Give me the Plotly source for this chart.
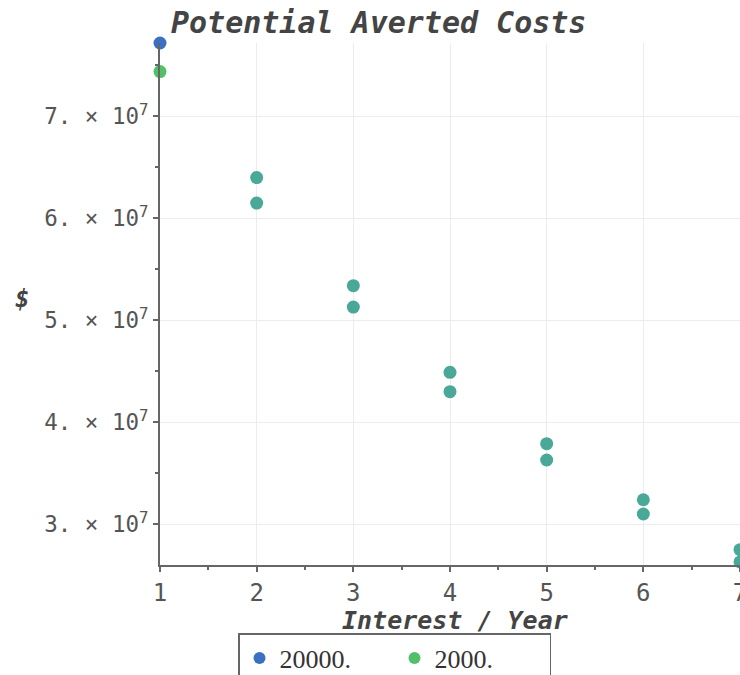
import plotly.graph_objects as go

# ---- data ----
interest_years = [1, 2, 3, 4, 5, 6, 7]
series_names = ["20000.", "2000."]
costs_20000 = [7.72e7, 6.40e7, 5.34e7, 4.49e7, 3.79e7, 3.24e7, 2.75e7]
costs_2000 = [7.44e7, 6.15e7, 5.13e7, 4.30e7, 3.63e7, 3.10e7, 2.63e7]
y_tick_vals = [3e7, 4e7, 5e7, 6e7, 7e7]
y_tick_text = ["3. × 10<sup>7</sup>", "4. × 10<sup>7</sup>", "5. × 10<sup>7</sup>",
               "6. × 10<sup>7</sup>", "7. × 10<sup>7</sup>"]
x_tick_vals = [1, 2, 3, 4, 5, 6, 7]

BLUE = "#3b6fc2"
GREEN = "#52c06a"
TEAL = "#49a898"

def colors(first):
    return [first] + [TEAL] * (len(interest_years) - 1)

fig = go.Figure()
fig.add_trace(go.Scatter(
    x=interest_years, y=costs_20000, mode="markers", name=series_names[0],
    marker=dict(size=13, color=colors(BLUE), symbol="circle"),
    cliponaxis=False,
))
fig.add_trace(go.Scatter(
    x=interest_years, y=costs_2000, mode="markers", name=series_names[1],
    marker=dict(size=13, color=colors(GREEN), symbol="circle"),
    cliponaxis=False,
))

mono = "DejaVu Sans Mono"
PH = 522  # plot height in px
PW = 580  # plot width in px
fig.update_layout(
    width=740, height=675,
    margin=dict(l=160, r=0, t=43, b=110, autoexpand=False),
    plot_bgcolor="white", paper_bgcolor="white",
    showlegend=True,
    legend=dict(
        orientation="h", x=(238 - 160) / PW, xanchor="left", y=-(633 - 565) / PH, yanchor="top",
        bordercolor="#666", borderwidth=1.5,
        font=dict(family="Liberation Serif", size=26, color="#333"),
        entrywidth=110, entrywidthmode="pixels", itemsizing="constant",
        tracegroupgap=0,
    ),
    annotations=[
        dict(text="<b><i>Potential Averted Costs</i></b>", xref="paper", yref="paper",
             x=(378 - 160) / PW, y=1 + (43 - 23) / PH, xanchor="center", yanchor="middle",
             showarrow=False, font=dict(family=mono, size=30, color="#444")),
        dict(text="<b><i>Interest / Year</i></b>", xref="paper", yref="paper",
             x=(455 - 160) / PW, y=-(620 - 565) / PH, xanchor="center", yanchor="middle",
             showarrow=False, font=dict(family=mono, size=25, color="#444")),
        dict(text="<b><i>$</i></b>", xref="paper", yref="paper",
             x=-(160 - 22) / PW, y=(565 - 299) / PH, xanchor="center", yanchor="middle",
             showarrow=False, font=dict(family=mono, size=24, color="#444")),
    ],
)
fig.update_xaxes(
    range=[1, 7.0], tickvals=x_tick_vals, automargin=False, ticklabeloverflow="allow",
    showline=True, linecolor="#666", linewidth=2,
    ticks="outside", ticklen=5, tickcolor="#666", tickwidth=1.5,
    minor=dict(ticks="outside", ticklen=3, tickcolor="#666", dtick=0.5, showgrid=False),
    showgrid=True, gridcolor="#ececec", gridwidth=1,
    zeroline=False,
    tickfont=dict(family=mono, size=24, color="#555"),
)
fig.update_yaxes(
    range=[2.6e7, 7.72e7], tickvals=y_tick_vals, ticktext=y_tick_text, automargin=False,
    showline=True, linecolor="#666", linewidth=2,
    ticks="outside", ticklen=5, tickcolor="#666", tickwidth=1.5,
    minor=dict(ticks="outside", ticklen=3, tickcolor="#666",
               tickvals=[2.5e7, 3.5e7, 4.5e7, 5.5e7, 6.5e7, 7.5e7], showgrid=False),
    showgrid=True, gridcolor="#ececec", gridwidth=1,
    zeroline=False,
    tickfont=dict(family=mono, size=22.5, color="#555"),
)

fig.write_html("out.html", config={"displayModeBar": False},
               post_script="document.body.style.margin='0';")
